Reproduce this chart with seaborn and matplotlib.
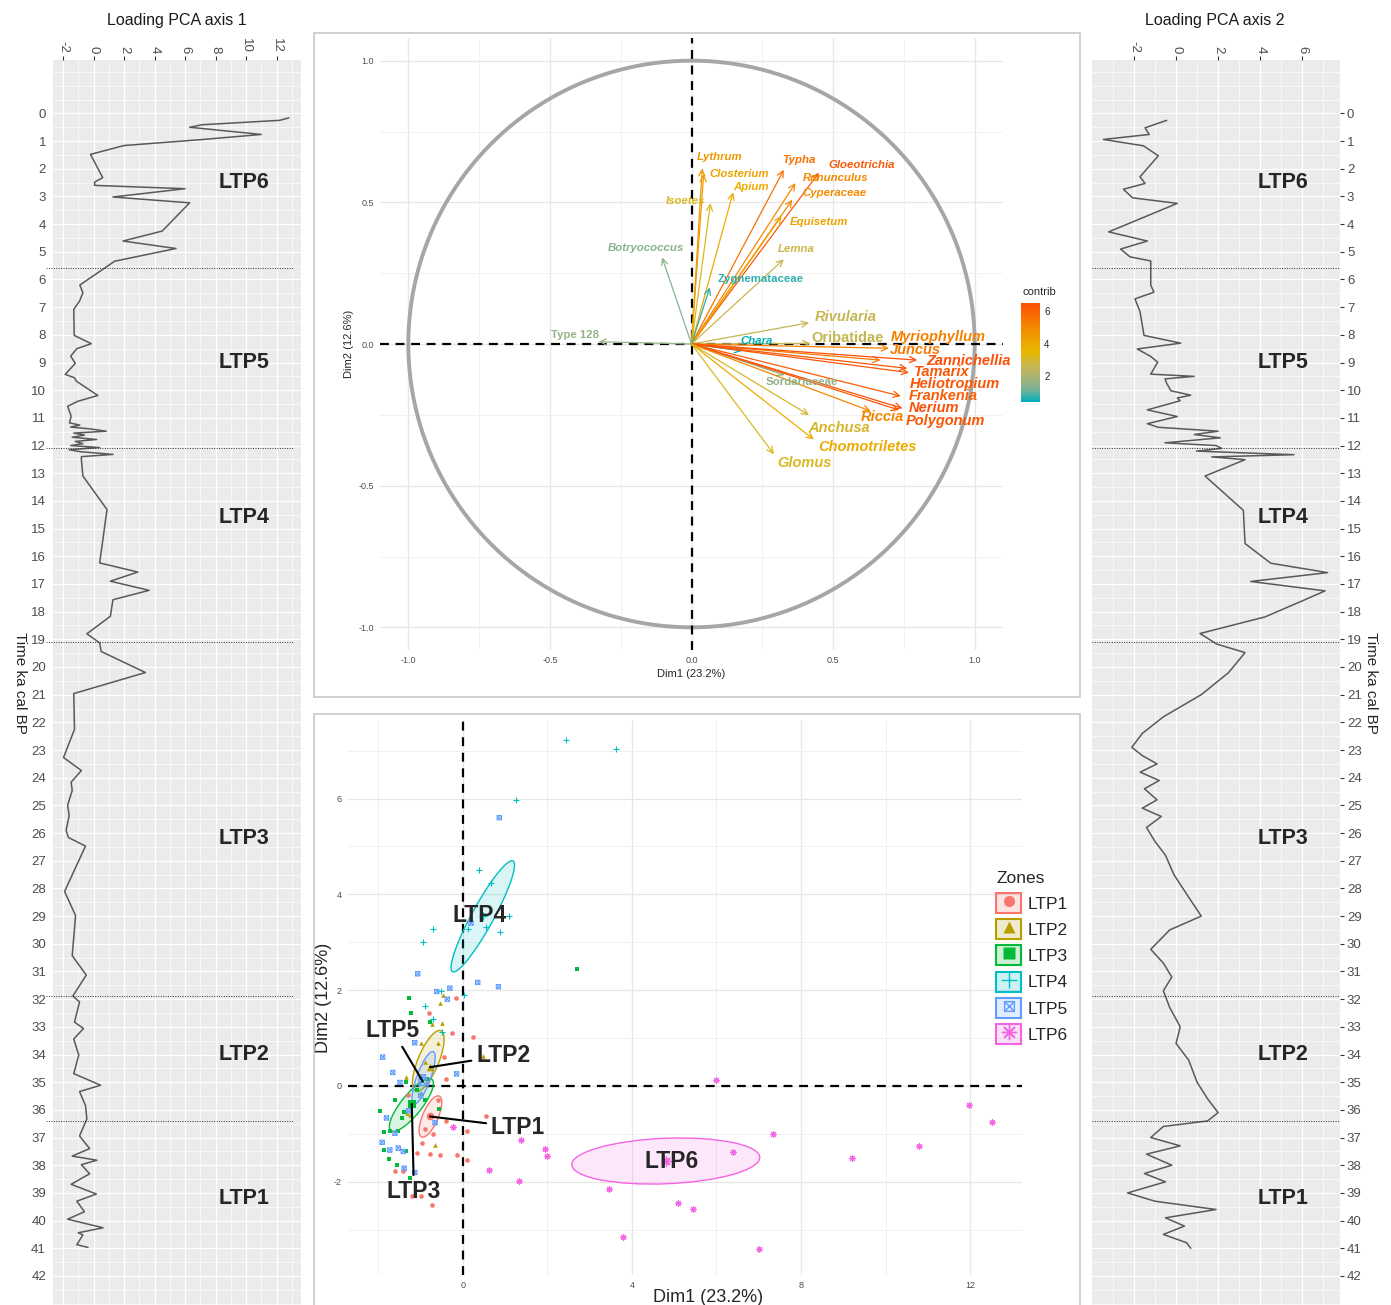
import numpy as np
import matplotlib
matplotlib.use("Agg")
import matplotlib.pyplot as plt
import seaborn as sns
from matplotlib.patches import Ellipse, Rectangle, Patch
from matplotlib.lines import Line2D
from matplotlib.path import Path
from matplotlib.colors import LinearSegmentedColormap, Normalize, to_rgba
from matplotlib.cm import ScalarMappable
from matplotlib.ticker import MultipleLocator
from matplotlib.legend_handler import HandlerTuple

sns.set_style("white")
plt.rcParams['font.family'] = ['Liberation Sans', 'DejaVu Sans']
plt.rcParams['axes.unicode_minus'] = False

# --- loading curves (time in ka cal BP) ---
time_ax1 = [0.16, 0.25, 0.41, 0.50, 0.76, 0.94, 1.16, 1.48, 2.32, 2.48,
            2.60, 2.72, 3.02, 3.23, 4.25, 4.61, 4.88, 5.34, 6.20, 6.48,
            6.78, 7.08, 8.02, 8.32, 8.50, 8.77, 9.03, 9.43, 9.55, 9.67,
            10.19, 10.40, 10.58, 10.94, 11.18, 11.26, 11.33, 11.40, 11.48, 11.55,
            11.62, 11.70, 11.78, 11.85, 11.93, 12.00, 12.07, 12.15, 12.22, 12.32,
            12.40, 12.50, 13.10, 14.31, 16.24, 16.57, 16.90, 17.23, 17.57, 18.17,
            18.80, 19.13, 19.44, 20.20, 20.96, 22.25, 23.27, 23.74, 24.16, 24.46,
            24.99, 25.37, 25.90, 26.16, 26.47, 28.11, 28.98, 30.43, 31.13, 31.89,
            32.10, 32.83, 33.06, 33.44, 34.02, 34.69, 35.11, 35.34, 35.84, 36.33,
            36.94, 37.40, 37.67, 37.82, 37.98, 38.31, 38.54, 38.69, 39.04, 39.30,
            39.68, 39.95, 40.26, 40.44, 40.52, 40.87, 40.97]
load_ax1 = [12.8, 12.2, 7.1, 6.3, 11.0, 7.2, 2.0, -0.2, 0.6, 0.07,
            0.07, 6.0, 1.27, 6.3, 4.5, 1.93, 5.4, 1.38, -0.9, -0.7,
            -0.92, -1.3, -1.27, -0.15, -1.1, -1.5, -1.2, -1.86, -1.25, -1.14,
            0.28, -1.03, -1.7, -1.47, -1.58, -0.9, -1.5, -0.2, 0.83, -1.3,
            -0.6, -1.4, 0.2, -1.2, -0.7, -1.5, 0.4, -1.6, -0.9, 1.27,
            -0.8, -0.8, -0.7, 0.88, 0.4, 2.9, 1.1, 3.64, 1.27, 1.1,
            -0.44, 0.4, 0.5, 3.4, -1.3, -1.25, -1.97, -0.8, -1.47, -1.4,
            -1.7, -1.6, -1.8, -1.65, -0.53, -1.9, -1.18, -1.4, -0.48, -1.36,
            -0.92, -1.25, -0.66, -1.3, -0.97, -1.3, 0.46, -0.92, -0.53, -0.44,
            -0.92, -0.26, -1.4, 0.22, -0.8, -0.26, -1.0, -1.47, 0.18, -1.1,
            -0.6, -1.7, 0.62, -1.0, -0.7, -1.1, -0.37]

time_ax2 = [0.25, 0.52, 0.76, 0.94, 1.17, 1.53, 2.29, 2.53, 2.74, 3.05,
            3.25, 4.28, 4.61, 4.90, 5.18, 5.33, 6.20, 6.46, 6.70, 7.16,
            8.02, 8.30, 8.51, 8.78, 8.99, 9.42, 9.50, 9.59, 9.74, 10.02,
            10.18, 10.28, 10.38, 10.71, 10.95, 11.21, 11.34, 11.48, 11.60, 11.72,
            11.90, 12.00, 12.10, 12.20, 12.33, 12.41, 12.51, 13.10, 14.34, 15.54,
            16.25, 16.59, 16.91, 17.25, 17.61, 18.19, 18.79, 19.17, 19.48, 20.2,
            21.0, 21.8, 22.4, 22.9, 23.2, 23.5, 23.8, 24.1, 24.4, 24.8,
            25.1, 25.4, 25.8, 26.3, 26.8, 27.5, 28.2, 29.0, 29.5, 30.2,
            30.7, 31.2, 31.7, 32.3, 33.0, 33.6, 34.2, 35.0, 35.6, 36.1,
            36.4, 36.6, 37.0, 37.3, 37.6, 38.0, 38.3, 38.6, 39.0, 39.3,
            39.6, 39.9, 40.2, 40.5, 40.8, 41.0]
load_ax2 = [-0.44, -1.47, -1.27, -3.45, -1.55, -0.84, -1.71, -1.47, -2.5, -2.06,
            0.06, -3.2, -1.36, -2.63, -2.19, -1.2, -1.2, -1.05, -1.95, -1.71,
            -1.52, 0.22, -1.84, -1.2, -0.87, -1.2, 0.86, -0.52, -0.45, -0.24,
            0.7, 0.06, 0.2, -1.36, 0.06, -1.36, -0.84, 2.0, 0.87, 2.1,
            -0.52, 1.9, 2.17, 0.98, 5.6, 1.7, 3.28, 1.38, 3.2, 3.28,
            4.5, 7.2, 3.55, 7.08, 6.0, 4.23, 1.14, 1.93, 3.28, 2.5,
            1.2, -0.6, -1.6, -2.1, -1.6, -0.9, -1.7, -0.8, -1.5, -0.9,
            -1.6, -0.7, -1.4, -1.0, -0.5, -0.1, 0.5, 1.2, -0.3, -1.2,
            -0.6, -0.2, -0.6, -0.3, 0.2, 0.0, 0.6, 1.0, 1.5, 2.0,
            1.5, -0.6, -1.2, 0.2, -1.4, -0.2, -1.5, -0.5, -2.3, -1.0,
            1.9, -0.5, 0.4, -0.6, 0.5, 0.7]

zone_names = ['LTP6', 'LTP5', 'LTP4', 'LTP3', 'LTP2', 'LTP1']
zone_mid = [2.5, 9.0, 14.6, 26.2, 34.0, 39.2]
zone_bounds = [5.6, 12.1, 19.1, 31.9, 36.4]

# --- variables correlation circle ---
var_names = ['Lythrum', 'Closterium', 'Isoetes', 'Apium', 'Typha', 'Gloeotrichia',
             'Ranunculus', 'Cyperaceae', 'Equisetum', 'Lemna', 'Botryococcus',
             'Zygnemataceae', 'Rivularia', 'Type 128', 'Oribatidae', 'Chara',
             'Myriophyllum', 'Juncus', 'Zannichellia', 'Tamarix', 'Heliotropium',
             'Sordariaceae', 'Frankenia', 'Nerium', 'Polygonum', 'Riccia',
             'Anchusa', 'Chomotriletes', 'Glomus']
dim1 = [0.038, 0.043, 0.067, 0.147, 0.326, 0.45, 0.367, 0.356, 0.318, 0.326, -0.104,
        0.065, 0.415, -0.328, 0.42, 0.179, 0.697, 0.668, 0.797, 0.762, 0.768,
        0.329, 0.739, 0.745, 0.733, 0.633, 0.415, 0.432, 0.291]
dim2 = [0.62, 0.60, 0.497, 0.535, 0.615, 0.605, 0.568, 0.509, 0.452, 0.299, 0.306,
        0.20, 0.075, 0.008, 0.002, -0.024, -0.015, -0.057, -0.057, -0.086, -0.101,
        -0.11, -0.184, -0.227, -0.233, -0.237, -0.251, -0.337, -0.389]
contrib = [4.6, 4.2, 3.1, 3.9, 5.6, 6.2, 5.0, 4.9, 4.2, 2.7, 1.4,
           0.7, 2.6, 1.6, 2.6, 0.4, 5.2, 5.4, 6.5, 6.3, 6.3,
           1.5, 6.1, 6.4, 6.3, 5.1, 3.0, 3.9, 3.1]

# --- individuals by zone ---
zones = ['LTP1', 'LTP2', 'LTP3', 'LTP4', 'LTP5', 'LTP6']
ind_ltp1_x = [-0.17, -0.8, -0.27, 0.23, -0.39, 0.54, -0.39, 0.09, -1.08, -0.78, -0.54, -0.13,
              0.09, -1.41, -0.98, -1.21, -0.74, -1.6, -1.0, -0.6, -0.9, -0.45, -1.3, -0.7]
ind_ltp1_y = [1.84, 1.52, 1.11, 1.02, 0.15, -0.64, -0.74, -0.95, -1.41, -1.43, -1.44, -1.44,
              -1.55, -1.77, -1.2, -2.3, -2.48, -1.77, -2.3, -0.3, -0.9, 0.6, -0.2, -1.0]
ind_ltp2_x = [-0.47, -0.5, -1.0, 0.47, -1.35, -0.99, -1.33, -0.66, -0.73, -0.54, -0.6, -1.25, -0.9]
ind_ltp2_y = [1.9, 1.32, 0.9, 0.63, 0.19, -0.14, -0.57, -1.23, 1.29, 1.73, 0.9, -0.6, 0.5]
ind_ltp3_x = [2.71, -1.24, -0.78, -1.35, -0.84, -1.08, -0.57, -1.96, -1.40, -1.45, -1.86,
              -1.73, -1.53, -1.86, -1.74, -1.57, -1.25, -1.35, -1.28, -0.9, -1.6]
ind_ltp3_y = [2.44, 1.53, 1.34, 0.09, 0.14, -0.08, -0.49, -0.52, -0.54, -0.68, -0.97,
              -0.95, -0.95, -1.34, -1.53, -1.66, -1.93, -1.37, 1.84, -0.3, -0.3]
ind_ltp4_x = [2.44, 3.62, 1.25, 0.39, 0.66, 1.10, -0.70, -0.94, 0.13, 0.54, 0.88, 0.02,
              -0.53, -0.9, -0.70, -0.50]
ind_ltp4_y = [7.22, 7.04, 5.97, 4.51, 4.24, 3.55, 3.27, 3.0, 3.27, 3.31, 3.21, 1.89,
              1.98, 1.67, 1.39, 1.13]
ind_ltp5_x = [0.86, 0.19, -1.07, 0.35, 0.84, -0.62, -0.31, -0.37, -1.14, -1.66, -1.49, -0.15,
              -0.94, -1.29, -1.81, -0.66, -1.61, -1.91, -1.73, -1.53, -1.41, -1.39, -1.14,
              -1.9, -1.0]
ind_ltp5_y = [5.6, 3.4, 2.34, 2.16, 2.07, 1.97, 2.04, 1.81, 0.9, 0.28, 0.07, 0.25,
              0.19, -0.52, -0.67, -0.77, -0.99, -1.18, -1.34, -1.3, -1.37, -1.72, -1.81,
              0.6, -0.2]
ind_ltp6_x = [5.98, -0.23, 1.37, 1.94, 2.0, 0.62, 1.33, 7.33, 6.40, 3.46, 5.08, 5.44,
              3.78, 7.01, 9.2, 10.79, 11.98, 12.51]
ind_ltp6_y = [0.13, -0.85, -1.14, -1.32, -1.46, -1.75, -1.98, -1.0, -1.39, -2.15, -2.44, -2.57,
              -3.15, -3.41, -1.5, -1.25, -0.41, -0.76]

# confidence ellipses: centre, axis lengths, angle
ell_cx = [-0.77, -0.82, -1.22, 0.47, -0.93, 4.80]
ell_cy = [-0.64, 0.52, -0.40, 3.54, 0.17, -1.57]
ell_major = [0.95, 1.40, 1.45, 2.72, 1.18, 4.45]
ell_minor = [0.36, 0.48, 0.46, 0.50, 0.32, 0.95]
ell_angle = [63, 64, 47, 58, 67, 2]
centroid_x = [-0.78, -0.78, -1.21, 0.47, -0.95, 4.80]
centroid_y = [-0.64, 0.39, -0.38, 3.54, 0.09, -1.57]

# ---------------------------------------------------------------
W, H = 1391, 1305
fig = plt.figure(figsize=(W / 100, H / 100), dpi=100)


def fx(px):
    return px / W


def fy(py):
    return 1 - py / H


def loading_panel(rect, x, t, xlim, title, title_x, right):
    ax = fig.add_axes(rect)
    ax.set_facecolor('#EBEBEB')
    sns.lineplot(x=x, y=t, sort=False, estimator=None, color='#595959', lw=1.1, ax=ax)
    ax.set_xlim(xlim)
    ax.set_ylim(43.05, -1.93)
    ax.xaxis.set_major_locator(MultipleLocator(2))
    ax.xaxis.set_minor_locator(MultipleLocator(1))
    ax.set_yticks(range(0, 43))
    ax.yaxis.set_minor_locator(MultipleLocator(0.5))
    ax.grid(which='major', color='white', lw=0.9)
    ax.grid(which='minor', color='white', lw=0.45)
    ax.set_axisbelow(True)
    for s in ax.spines.values():
        s.set_visible(False)
    ax.xaxis.tick_top()
    if right:
        ax.yaxis.tick_right()
    ax.tick_params(which='major', labelsize=9.5, labelcolor='#4D4D4D', color='#333333',
                   length=3, width=0.8, pad=2)
    ax.tick_params(axis='x', labelrotation=-90)
    ax.tick_params(which='minor', length=0)
    ax.set_xlabel('')
    ax.set_ylabel('')
    for b in zone_bounds:
        ax.axhline(b, color='#333333', lw=0.7, ls=(0, (1, 1.5)),
                   xmin=0.0 if right else -0.03, xmax=1.0 if right else 0.97, clip_on=False)
    zx = xlim[0] + 0.77 * (xlim[1] - xlim[0])
    for name, tm in zip(zone_names, zone_mid):
        ax.text(zx, tm, name, fontsize=15.5, weight='bold', ha='center', va='center')
    fig.text(title_x, fy(20), title, fontsize=11.5, ha='center', va='center', color='#1a1a1a')
    return ax


loading_panel([fx(53), 0, fx(301) - fx(53), fy(60)], load_ax1, time_ax1,
              (-2.66, 13.6), 'Loading PCA axis 1', fx(177), False)
loading_panel([fx(1092), 0, fx(1340) - fx(1092), fy(60)], load_ax2, time_ax2,
              (-3.99, 7.79), 'Loading PCA axis 2', fx(1215), True)
fig.text(fx(20), fy(683), 'Time ka cal BP', rotation=-90, fontsize=11, ha='center', va='center')
fig.text(fx(1371), fy(683), 'Time ka cal BP', rotation=-90, fontsize=11, ha='center', va='center')

# panel frames
for (x0, y0, x1, y1) in [(314, 33, 1080, 697), (314, 714, 1080, 1330)]:
    fig.add_artist(Rectangle((fx(x0), fy(y1)), fx(x1) - fx(x0), fy(y0) - fy(y1),
                             transform=fig.transFigure, fill=False, ec='#C8C8C8', lw=1.2))

# --- correlation circle ---
# gradient #00AFBB -> #E7B800 -> #FC4E07, interpolated roughly as in Lab space
cmap = LinearSegmentedColormap.from_list(
    'contrib', [(0.0, '#00AFBB'), (0.125, '#7AB298'), (0.25, '#A9B375'), (0.375, '#CAB64C'),
                (0.5, '#E7B800'), (0.75, '#F48A00'), (1.0, '#FC4E07')])
norm = Normalize(vmin=min(contrib), vmax=max(contrib))

axv = fig.add_axes([fx(380), fy(650), fx(1003) - fx(380), fy(38) - fy(650)])
axv.set_xlim(-1.1, 1.1)
axv.set_ylim(-1.08, 1.08)
axv.xaxis.set_major_locator(MultipleLocator(0.5))
axv.yaxis.set_major_locator(MultipleLocator(0.5))
axv.xaxis.set_minor_locator(MultipleLocator(0.25))
axv.yaxis.set_minor_locator(MultipleLocator(0.25))
axv.grid(which='major', color='#E6E6E6', lw=0.9)
axv.grid(which='minor', color='#F0F0F0', lw=0.6)
axv.set_axisbelow(True)
for s in axv.spines.values():
    s.set_visible(False)
axv.xaxis.set_major_formatter(plt.FuncFormatter(lambda v, p: f'{v:.1f}'))
axv.yaxis.set_major_formatter(plt.FuncFormatter(lambda v, p: f'{v:.1f}'))
axv.tick_params(which='major', labelsize=6.5, labelcolor='#4D4D4D', color='#333333',
                length=2.5, width=0.6, pad=2)
axv.tick_params(which='minor', length=0)
axv.set_xlabel('Dim1 (23.2%)', fontsize=8, labelpad=3)
axv.set_ylabel('Dim2 (12.6%)', fontsize=8, labelpad=3)

theta = np.linspace(0, 2 * np.pi, 400)
axv.plot(np.cos(theta), np.sin(theta), color='#A6A6A6', lw=2.8, zorder=2)
axv.axhline(0, color='black', ls=(0, (4, 3)), lw=1.6, zorder=3)
axv.axvline(0, color='black', ls=(0, (4, 3)), lw=1.6, zorder=3)

label_pos = {
    'Lythrum': (0.10, 0.66), 'Closterium': (0.17, 0.60), 'Isoetes': (-0.02, 0.505),
    'Apium': (0.21, 0.555), 'Typha': (0.38, 0.65), 'Gloeotrichia': (0.60, 0.63),
    'Ranunculus': (0.51, 0.585), 'Cyperaceae': (0.505, 0.532), 'Equisetum': (0.45, 0.432),
    'Lemna': (0.37, 0.335), 'Botryococcus': (-0.16, 0.34), 'Zygnemataceae': (0.245, 0.23),
    'Rivularia': (0.545, 0.095), 'Type 128': (-0.41, 0.03), 'Oribatidae': (0.55, 0.022),
    'Chara': (0.23, 0.012), 'Myriophyllum': (0.87, 0.025), 'Juncus': (0.79, -0.02),
    'Zannichellia': (0.98, -0.06), 'Tamarix': (0.885, -0.10), 'Heliotropium': (0.93, -0.142),
    'Sordariaceae': (0.39, -0.134), 'Frankenia': (0.89, -0.184), 'Nerium': (0.855, -0.226),
    'Polygonum': (0.895, -0.272), 'Riccia': (0.675, -0.258), 'Anchusa': (0.52, -0.296),
    'Chomotriletes': (0.62, -0.365), 'Glomus': (0.40, -0.42)}
big_labels = {'Rivularia', 'Oribatidae', 'Myriophyllum', 'Juncus', 'Zannichellia', 'Tamarix',
              'Heliotropium', 'Frankenia', 'Nerium', 'Polygonum', 'Riccia', 'Anchusa',
              'Chomotriletes', 'Glomus'}
upright = {'Zygnemataceae', 'Type 128', 'Oribatidae', 'Sordariaceae'}

for name, vx, vy, cv in zip(var_names, dim1, dim2, contrib):
    col = cmap(norm(cv))
    axv.annotate('', xy=(vx, vy), xytext=(0, 0),
                 arrowprops=dict(arrowstyle='->,head_length=0.45,head_width=0.22',
                                 color=col, lw=0.9, shrinkA=0, shrinkB=0), zorder=4)
    lx, ly = label_pos[name]
    axv.text(lx, ly, name, color=col, fontsize=10.5 if name in big_labels else 8.2,
             weight='bold', style='normal' if name in upright else 'italic',
             ha='center', va='center', zorder=5)

cax = fig.add_axes([fx(1021), fy(402), fx(1040) - fx(1021), fy(303) - fy(402)])
cb = fig.colorbar(ScalarMappable(norm=norm, cmap=cmap), cax=cax)
cb.outline.set_visible(False)
cb.set_ticks([2, 4, 6])
cax.tick_params(labelsize=7, length=3, color='white', direction='in', width=0.8, pad=3)
fig.text(fx(1039), fy(292), 'contrib', fontsize=8, ha='center', va='center')

# --- individuals ---
zone_cols = ['#F8766D', '#B79F00', '#00BA38', '#00BFC4', '#619CFF', '#F564E3']
box_x = Path([(-1, -1), (1, -1), (1, 1), (-1, 1), (-1, -1), (-1, -1), (1, 1), (-1, 1), (1, -1)],
             [Path.MOVETO, Path.LINETO, Path.LINETO, Path.LINETO, Path.CLOSEPOLY,
              Path.MOVETO, Path.LINETO, Path.MOVETO, Path.LINETO])
zone_markers = ['o', '^', 's', '+', box_x, (8, 2, 0)]
ind_x = [ind_ltp1_x, ind_ltp2_x, ind_ltp3_x, ind_ltp4_x, ind_ltp5_x, ind_ltp6_x]
ind_y = [ind_ltp1_y, ind_ltp2_y, ind_ltp3_y, ind_ltp4_y, ind_ltp5_y, ind_ltp6_y]

axi = fig.add_axes([fx(348), fy(1275), fx(1022) - fx(348), fy(720) - fy(1275)])
axi.set_xlim(-2.72, 13.23)
axi.set_ylim(-3.95, 7.64)
axi.xaxis.set_major_locator(MultipleLocator(4))
axi.xaxis.set_minor_locator(MultipleLocator(2))
axi.yaxis.set_major_locator(MultipleLocator(2))
axi.yaxis.set_minor_locator(MultipleLocator(1))
axi.grid(which='major', color='#E6E6E6', lw=0.9)
axi.grid(which='minor', color='#F0F0F0', lw=0.7)
axi.set_axisbelow(True)
for s in axi.spines.values():
    s.set_visible(False)
axi.tick_params(which='major', labelsize=6.5, labelcolor='#4D4D4D', color='#333333',
                length=2.5, width=0.6, pad=2)
axi.tick_params(which='minor', length=0)
axi.axhline(0, color='black', ls=(0, (4, 3)), lw=1.6, zorder=1)
axi.axvline(0, color='black', ls=(0, (4, 3)), lw=1.6, zorder=1)

for i, z in enumerate(zones):
    c = zone_cols[i]
    axi.add_patch(Ellipse((ell_cx[i], ell_cy[i]), ell_major[i], ell_minor[i], angle=ell_angle[i],
                          facecolor=to_rgba(c, 0.15), edgecolor=c, lw=1.0, zorder=2))
    m = zone_markers[i]
    if i == 4:
        sns.scatterplot(x=ind_x[i], y=ind_y[i], marker=m, s=10, facecolor='none',
                        edgecolor=c, linewidth=0.7, ax=axi, zorder=3)
        sns.scatterplot(x=[centroid_x[i]], y=[centroid_y[i]], marker=m, s=30, facecolor='none',
                        edgecolor=c, linewidth=1.0, ax=axi, zorder=3)
    elif i in (3, 5):
        sns.scatterplot(x=ind_x[i], y=ind_y[i], marker=m, s=18, color=c, linewidth=0.8,
                        edgecolor=c, ax=axi, zorder=3)
        sns.scatterplot(x=[centroid_x[i]], y=[centroid_y[i]], marker=m, s=40, color=c,
                        linewidth=1.0, edgecolor=c, ax=axi, zorder=3)
    else:
        sns.scatterplot(x=ind_x[i], y=ind_y[i], marker=m, s=11, color=c, linewidth=0,
                        ax=axi, zorder=3)
        sns.scatterplot(x=[centroid_x[i]], y=[centroid_y[i]], marker=m, s=30, color=c,
                        linewidth=0, ax=axi, zorder=3)

zone_label_pos = {'LTP1': (1.30, -0.86), 'LTP2': (0.95, 0.63), 'LTP3': (-1.16, -2.20),
                  'LTP4': (0.40, 3.55), 'LTP5': (-1.66, 1.15), 'LTP6': (4.95, -1.59)}
for i, z in enumerate(zones):
    tx, ty = zone_label_pos[z]
    if z in ('LTP4', 'LTP6'):
        axi.text(tx, ty, z, fontsize=16.5, weight='bold', ha='center', va='center', zorder=6)
    else:
        axi.annotate(z, xy=(centroid_x[i], centroid_y[i]), xytext=(tx, ty), fontsize=16.5,
                     weight='bold', ha='center', va='center', zorder=6,
                     arrowprops=dict(arrowstyle='-', color='black', lw=1.5,
                                     shrinkA=1, shrinkB=0))

axi.set_xlabel('')
axi.set_ylabel('Dim2 (12.6%)', fontsize=13, labelpad=1)
fig.text(fx(708), fy(1297), 'Dim1 (23.2%)', fontsize=13, ha='center', va='center')

handles = []
for i, z in enumerate(zones):
    c = zone_cols[i]
    box = Patch(facecolor=to_rgba(c, 0.2), edgecolor=c, lw=1.5)
    if i in (3, 4, 5):
        mk = Line2D([], [], marker=zone_markers[i], ls='', markersize=11 if i != 4 else 7,
                    markeredgecolor=c, markerfacecolor='none', markeredgewidth=1.0)
    else:
        mk = Line2D([], [], marker=zone_markers[i], ls='', markersize=8,
                    markeredgecolor='none', markerfacecolor=c)
    handles.append((box, mk))
fig.legend(handles, zones, handler_map={tuple: HandlerTuple(ndivide=1)},
           loc='upper left', bbox_to_anchor=(fx(993), fy(868)), frameon=False,
           title='Zones', fontsize=12.5, title_fontsize=12.5, handlelength=1.4,
           handleheight=1.4, labelspacing=0.36, handletextpad=0.4, alignment='left',
           borderaxespad=0, borderpad=0.2)

fig.savefig('out.png', dpi=100)
